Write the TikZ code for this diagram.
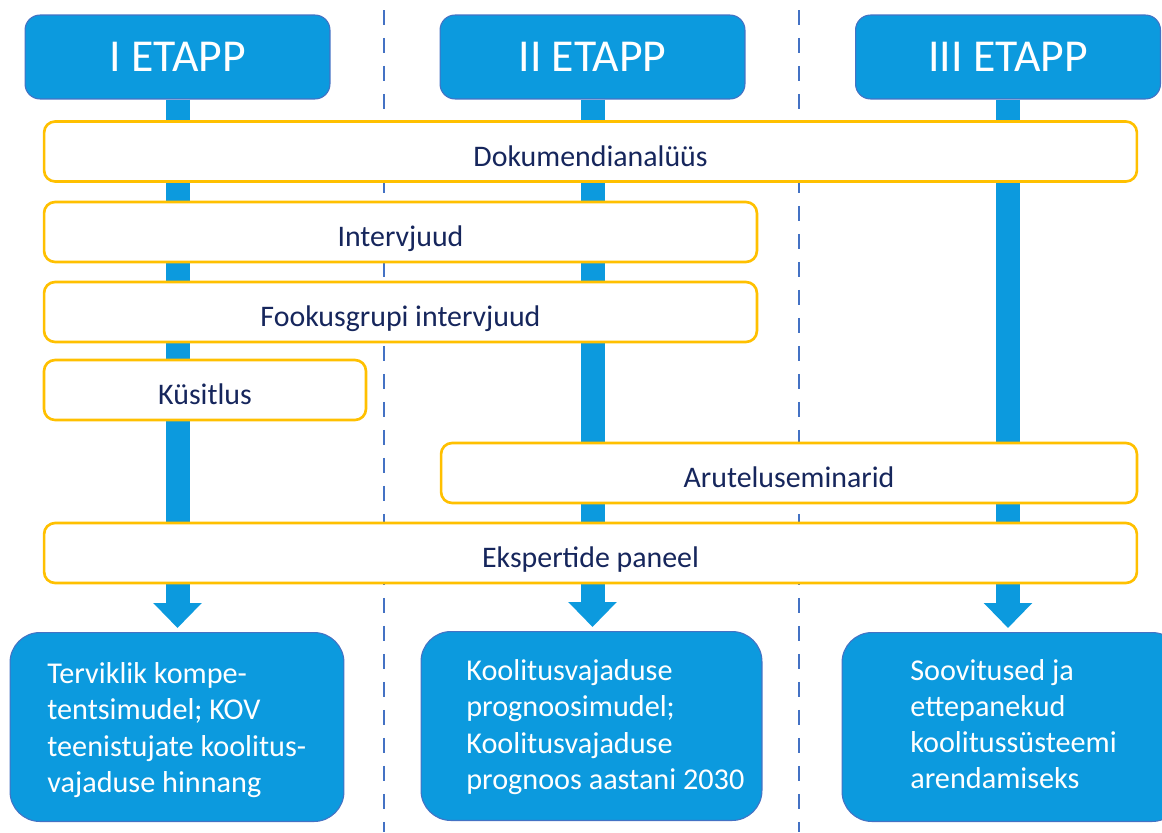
\documentclass[tikz,border=0pt]{standalone}
\usepackage{fontspec}
\setmainfont{Carlito}
\usetikzlibrary{arrows.meta}
\definecolor{etappblue}{RGB}{12,154,222}
\definecolor{edgeblue}{RGB}{68,114,196}
\definecolor{methodgold}{RGB}{255,192,0}
\definecolor{methodtext}{RGB}{22,38,92}
\begin{document}
\begin{tikzpicture}[x=0.02cm, y=-0.02cm,
  etapp/.style={draw=edgeblue, line width=0.6pt, fill=etappblue, rounded corners=0.3cm, minimum width=6.1cm, minimum height=1.68cm, text=white, font=\fontsize{26}{30}\selectfont},
  method/.style={draw=methodgold, line width=1.5pt, fill=white, rounded corners=0.22cm, minimum height=1.2cm, text height=17pt, text depth=0pt, text=methodtext, font=\fontsize{17}{20}\selectfont},
  result/.style={draw=edgeblue, line width=0.6pt, fill=etappblue, rounded corners=0.6cm, minimum height=3.78cm},
  resulttext/.style={anchor=west, align=left, inner sep=0pt, text=white, font=\fontsize{17.2}{20.6}\selectfont},
  flow/.style={draw=etappblue, line width=0.48cm, -{Triangle[width=0.94cm, length=0.5cm]}, shorten >=0.08cm},
  divider/.style={draw=edgeblue, line width=1.6pt, dash pattern=on 0.3cm off 0.26cm}]
\useasboundingbox (0,0) rectangle (1162,832);

% dividers between stages
\draw[divider] (384,10) -- (384,832);
\draw[divider] (799,10) -- (799,832);

% stages
\node[etapp] (h1) at (177.5,57) {I ETAPP};
\node[etapp] (h2) at (592.5,57) {II ETAPP};
\node[etapp] (h3) at (1008,57) {III ETAPP};

% results
\node[result, minimum width=6.68cm] (r1) at (177,727) {};
\node[result, minimum width=6.82cm] (r2) at (591.5,726) {};
\node[result, minimum width=6.8cm] (r3) at (1012,727) {};
\node[resulttext] (t1) at (47,730) {Terviklik kompe-\\ tentsimudel; KOV\\ teenistujate koolitus-\\ vajaduse hinnang};
\node[resulttext] (t2) at (466,727) {Koolitusvajaduse\\ prognoosimudel;\\ Koolitusvajaduse\\ prognoos aastani 2030};
\node[resulttext] (t3) at (910,724) {Soovitused ja\\ ettepanekud\\ koolitussüsteemi\\ arendamiseks};

\draw[flow] (h1.south) -- (h1.south |- r1.north);
\draw[flow] (h2.south) -- (h2.south |- r2.north);
\draw[flow] (h3.south) -- (h3.south |- r3.north);

% methods
\node[method, minimum width=21.86cm] (m1) at (590.5,151.5) {Dokumendianalüüs};
\node[method, minimum width=14.26cm] (m2) at (400.5,232) {Intervjuud};
\node[method, minimum width=14.26cm] (m3) at (400.5,312) {Fookusgrupi intervjuud};
\node[method, minimum width=6.44cm] (m4) at (205,390) {Küsitlus};
\node[method, minimum width=13.92cm] (m5) at (789,473) {Aruteluseminarid};
\node[method, minimum width=21.86cm] (m6) at (590.5,553) {Ekspertide paneel};

\end{tikzpicture}
\end{document}
